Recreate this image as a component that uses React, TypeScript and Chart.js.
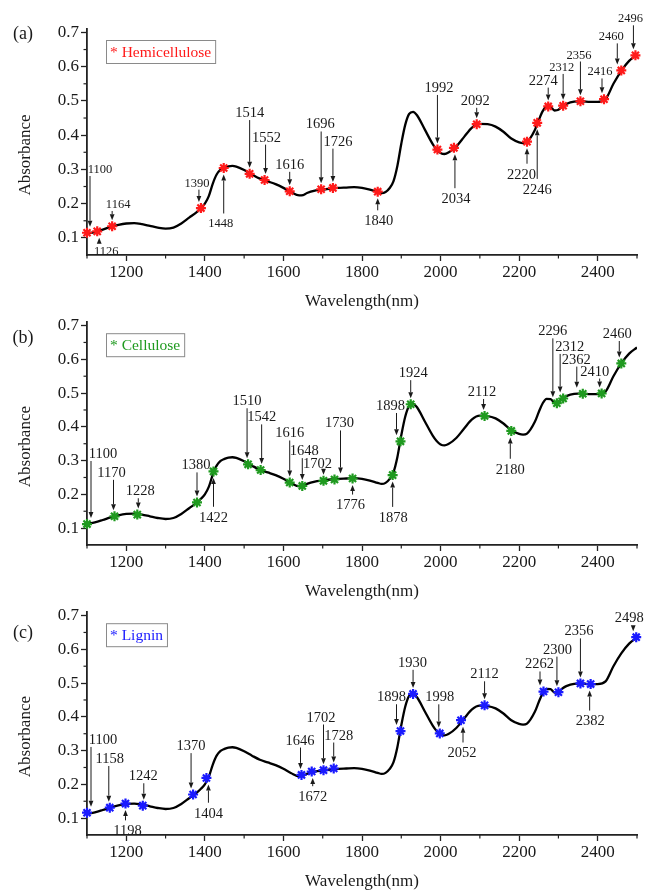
import React, { useEffect, useRef } from "react";
import { Chart, registerables } from "chart.js";
Chart.register(...registerables);

// ---------- data ----------
const SPECTRUM_WL = [
  1100, 1120, 1140, 1160, 1180, 1200, 1220, 1240, 1260, 1280, 1300, 1320, 1340, 1360, 1380, 1390,
  1400, 1410, 1420, 1430, 1440, 1450, 1460, 1470, 1480, 1500, 1520, 1540, 1560, 1580, 1600, 1620,
  1640, 1650, 1660, 1680, 1700, 1720, 1740, 1760, 1780, 1800, 1820, 1840, 1850, 1860, 1870, 1880,
  1890, 1900, 1910, 1920, 1930, 1940, 1960, 1980, 1990, 2000, 2010, 2020, 2040, 2060, 2080, 2100,
  2120, 2140, 2160, 2180, 2200, 2210, 2220, 2240, 2250, 2260, 2270, 2280, 2290, 2300, 2310, 2320,
  2340, 2360, 2380, 2400, 2420, 2440, 2460, 2480, 2500,
];
const SPECTRUM_ABS = [
  0.113, 0.117, 0.124, 0.132, 0.138, 0.142, 0.143, 0.14, 0.135, 0.13, 0.127, 0.13, 0.142, 0.159, 0.176, 0.187,
  0.2, 0.222, 0.258, 0.285, 0.299, 0.305, 0.309, 0.31, 0.308, 0.298, 0.285, 0.273, 0.265, 0.257, 0.246, 0.233,
  0.224, 0.225, 0.231, 0.238, 0.241, 0.244, 0.246, 0.247, 0.248, 0.246, 0.241, 0.234, 0.231, 0.234, 0.245, 0.265,
  0.31, 0.375, 0.43, 0.462, 0.468, 0.458, 0.416, 0.374, 0.358, 0.348, 0.345, 0.349, 0.367, 0.395, 0.422, 0.433,
  0.432, 0.425, 0.41, 0.39, 0.379, 0.377, 0.38, 0.415, 0.444, 0.47, 0.483, 0.482, 0.472, 0.474, 0.484, 0.491,
  0.498, 0.499, 0.497, 0.497, 0.505, 0.55, 0.588, 0.617, 0.635,
];

const HEMI_WL = [1100, 1126, 1164, 1390, 1448, 1514, 1552, 1616, 1696, 1726, 1840, 1992, 2034, 2092, 2220, 2246, 2274, 2312, 2356, 2416, 2460, 2496];
const HEMI_ABS = [0.115, 0.119, 0.134, 0.187, 0.304, 0.287, 0.269, 0.236, 0.242, 0.246, 0.235, 0.358, 0.363, 0.432, 0.381, 0.436, 0.484, 0.486, 0.499, 0.505, 0.589, 0.633];

const CELL_WL = [1100, 1170, 1228, 1380, 1422, 1510, 1542, 1616, 1648, 1702, 1730, 1776, 1878, 1898, 1924, 2112, 2180, 2296, 2312, 2362, 2410, 2460];
const CELL_ABS = [0.112, 0.135, 0.14, 0.176, 0.268, 0.289, 0.272, 0.235, 0.225, 0.24, 0.244, 0.247, 0.257, 0.357, 0.467, 0.432, 0.388, 0.47, 0.484, 0.498, 0.499, 0.588];

const LIG_WL = [1100, 1158, 1198, 1242, 1370, 1404, 1646, 1672, 1702, 1728, 1898, 1930, 1998, 2052, 2112, 2262, 2300, 2356, 2382, 2498];
const LIG_ABS = [0.116, 0.131, 0.143, 0.137, 0.17, 0.219, 0.228, 0.238, 0.242, 0.247, 0.358, 0.468, 0.351, 0.39, 0.434, 0.475, 0.473, 0.499, 0.497, 0.636];

const X_TICKS = [1200, 1400, 1600, 1800, 2000, 2200, 2400];
const X_MINOR = [1100, 1300, 1500, 1700, 1900, 2100, 2300, 2500];
const Y_TICKS = [0.1, 0.2, 0.3, 0.4, 0.5, 0.6, 0.7];
const Y_MINOR = [0.15, 0.25, 0.35, 0.45, 0.55, 0.65];

// ---------- label layout (px offsets from marker: labelDx, labelDy, arrowDx, fontSize) ----------
const S = 12.5;
const L = 14.5;
const HEMI_LAYOUT = [
  [13, -64, 3, S], [9, 19, 2, S], [6, -22.5, 0, S], [-4, -25.7, -2, S], [-3, 54.7, 0, S],
  [0, -61.7, 0, L], [2, -43.3, 1, L], [0, -27.4, 0, L], [-1, -65.7, 0, L], [5, -47.2, 0, L],
  [1, 28.6, 0, L], [1.5, -62.5, 0, L], [2, 50.3, 1, L], [-1.5, -24.3, 0, L], [-5.5, 32, 0, L],
  [0, 66, 0, L], [-5, -26.7, 0, L], [-1.5, -39, 0, S], [-1.5, -47, 0, S], [-4, -28, -2, S],
  [-10, -34.3, -4, S], [-5, -37.3, -2, S],
];
const CELL_LAYOUT = [
  [16, -71, 4, L], [-3, -44.4, -1, L], [3, -24.3, 1, L], [-1, -38, 0, L], [0, 45.3, 0, L],
  [-1, -64, -1, L], [1, -53.6, 1, L], [0, -50, 0, L], [2, -35.7, 0, L], [-6, -17.7, 0, L],
  [5, -57, 6, L], [-2, 26, 0, L], [0.5, 41.7, 0, L], [-10, -36.3, -4, L], [2.5, -32, 0, L],
  [-2.5, -25, -1, L], [-1, 37.8, -1, L], [-4, -72.8, -4, L], [6.5, -52.5, -3, L], [-6.5, -35.1, -6, L],
  [-7, -22.8, -2, L], [-4, -30.3, -2, L],
];
const LIG_LAYOUT = [
  [16, -73.7, 4, L], [0, -49.6, -1, L], [2, 26.7, 0, L], [0.5, -30.3, 1, L], [-2, -49.3, -2, L],
  [2, 34.7, 2, L], [-1.5, -35.3, -1, L], [1, 24.6, 1, L], [-2.5, -53.6, 0, L], [5, -33.9, 0, L],
  [-9, -34.7, -4, L], [-0.5, -32, 0, L], [0, -37, -1, L], [1, 32.2, 2, L], [0, -32, 0, L],
  [-4, -28, -3.5, L], [-1, -43.5, -1.5, L], [-1.5, -53, 0, L], [-0.5, 36.4, -1, L], [-7, -19.7, -3, L],
];

const FONT = "'Liberation Serif', 'Times New Roman', serif";
const INK = "#1a1a1a";
const AXIS = "#222";

const PANELS = [
  { tag: "(a)", name: "Hemicellulose", color: "#ff1a1a", wl: HEMI_WL, abs: HEMI_ABS, layout: HEMI_LAYOUT, top: 0, h: 310, padTop: 29, tagY: 34 },
  { tag: "(b)", name: "Cellulose", color: "#1f9a1f", wl: CELL_WL, abs: CELL_ABS, layout: CELL_LAYOUT, top: 310, h: 290, padTop: 12, tagY: 28 },
  { tag: "(c)", name: "Lignin", color: "#1a1aff", wl: LIG_WL, abs: LIG_ABS, layout: LIG_LAYOUT, top: 600, h: 290, padTop: 10, tagY: 33 },
];

function makeDecor(p: any) {
  return {
    id: "decor",
    afterDraw(chart: any) {
      const ctx = chart.ctx as CanvasRenderingContext2D;
      const xs = chart.scales.x;
      const ys = chart.scales.y;
      const a = chart.chartArea;
      ctx.save();
      // minor ticks
      ctx.strokeStyle = AXIS;
      ctx.lineWidth = 1.2;
      X_MINOR.forEach((v) => {
        const px = xs.getPixelForValue(v);
        ctx.beginPath();
        ctx.moveTo(px, a.bottom);
        ctx.lineTo(px, a.bottom + 3.5);
        ctx.stroke();
      });
      Y_MINOR.forEach((v) => {
        const py = ys.getPixelForValue(v);
        ctx.beginPath();
        ctx.moveTo(a.left, py);
        ctx.lineTo(a.left - 3.5, py);
        ctx.stroke();
      });
      // annotations
      ctx.strokeStyle = INK;
      ctx.fillStyle = INK;
      ctx.lineWidth = 1;
      p.wl.forEach((wl: number, i: number) => {
        const [ldx, dy, adx, size] = p.layout[i];
        const mx = xs.getPixelForValue(wl);
        const my = ys.getPixelForValue(p.abs[i]);
        const lx = mx + ldx;
        const ly = my + dy;
        ctx.font = `${size}px ${FONT}`;
        ctx.textAlign = "center";
        ctx.textBaseline = "alphabetic";
        ctx.fillText(String(wl), lx, ly + size * 0.34);
        const half = size * 0.34;
        const ax = mx + adx;
        let start: number, tip: number;
        if (dy < 0) {
          start = ly + half + 3;
          tip = my - 6;
        } else {
          start = ly - half - 5;
          tip = my + 6.5;
        }
        const dir = Math.sign(tip - start) || 1;
        const headLen = 6;
        const headW = 2.4;
        const base = tip - dir * headLen;
        if (Math.abs(tip - start) > headLen) {
          ctx.beginPath();
          ctx.moveTo(ax, start);
          ctx.lineTo(ax, base);
          ctx.stroke();
        }
        ctx.beginPath();
        ctx.moveTo(ax, tip);
        ctx.lineTo(ax - headW, base);
        ctx.lineTo(ax + headW, base);
        ctx.closePath();
        ctx.fill();
      });
      // legend box
      ctx.font = `15.5px ${FONT}`;
      const label = "* " + p.name;
      const tw = ctx.measureText(label).width;
      const bx = a.left + 19;
      const by = a.top + 11;
      const bw = tw + 8;
      const bh = 23;
      ctx.fillStyle = "#fff";
      ctx.fillRect(bx, by, bw, bh);
      ctx.strokeStyle = "#8a8a8a";
      ctx.lineWidth = 1;
      ctx.strokeRect(bx + 0.5, by + 0.5, bw, bh);
      ctx.fillStyle = p.color;
      ctx.textAlign = "left";
      ctx.textBaseline = "middle";
      ctx.fillText(label, bx + 4, by + bh / 2 + 1);
      // y title
      ctx.save();
      ctx.translate(26, (a.top + a.bottom) / 2 + 13);
      ctx.rotate(-Math.PI / 2);
      ctx.font = `17px ${FONT}`;
      ctx.fillStyle = INK;
      ctx.textAlign = "center";
      ctx.textBaseline = "middle";
      ctx.fillText("Absorbance", 0, 0);
      ctx.restore();
      // panel tag
      ctx.font = `18px ${FONT}`;
      ctx.fillStyle = INK;
      ctx.textAlign = "center";
      ctx.textBaseline = "middle";
      ctx.fillText(p.tag, 23, p.tagY);
      ctx.restore();
    },
  };
}

function Panel({ p }: { p: any }) {
  const ref = useRef<HTMLCanvasElement>(null);
  useEffect(() => {
    const canvas = ref.current;
    if (!canvas) return;
    const spectrum = SPECTRUM_WL.map((x, i) => ({ x, y: SPECTRUM_ABS[i] }));
    const marks = p.wl.map((x: number, i: number) => ({ x, y: p.abs[i] }));
    const chart = new Chart(canvas, {
      type: "line",
      data: {
        datasets: [
          {
            data: marks,
            showLine: false,
            pointStyle: "star",
            pointRadius: 5,
            pointBorderWidth: 2.2,
            borderColor: p.color,
            backgroundColor: p.color,
            clip: false,
          } as any,
          {
            data: spectrum,
            borderColor: "#000",
            borderWidth: 2.3,
            pointRadius: 0,
            cubicInterpolationMode: "monotone",
            fill: false,
          } as any,
        ],
      },
      options: {
        animation: false,
        responsive: false,
        maintainAspectRatio: false,
        events: [],
        layout: { padding: { left: 0, right: 8, top: p.padTop, bottom: 0 } },
        plugins: { legend: { display: false }, tooltip: { enabled: false } },
        scales: {
          x: {
            type: "linear",
            min: 1100,
            max: 2500,
            afterBuildTicks: (s: any) => {
              s.ticks = X_TICKS.map((v) => ({ value: v }));
            },
            afterFit: (s: any) => {
              s.height = 55;
            },
            grid: { display: true, drawOnChartArea: false, drawTicks: true, tickLength: 6, tickColor: AXIS, tickWidth: 1.3 },
            border: { display: true, color: AXIS, width: 1.8 },
            ticks: {
              font: { family: FONT, size: 17 },
              color: INK,
              padding: 1,
              maxRotation: 0,
              autoSkip: false,
              callback: (v: any) => String(v),
            },
            title: { display: true, text: "Wavelength(nm)", font: { family: FONT, size: 17, lineHeight: 1 }, color: INK, padding: 0 },
          },
          y: {
            type: "linear",
            min: 0.05,
            max: 0.71,
            afterBuildTicks: (s: any) => {
              s.ticks = Y_TICKS.map((v) => ({ value: v }));
            },
            afterFit: (s: any) => {
              s.width = 87;
            },
            grid: { display: true, drawOnChartArea: false, drawTicks: true, tickLength: 6, tickColor: AXIS, tickWidth: 1.3 },
            border: { display: true, color: AXIS, width: 1.8 },
            ticks: {
              font: { family: FONT, size: 17 },
              color: INK,
              padding: 2,
              autoSkip: false,
              callback: (v: any) => Number(v).toFixed(1),
            },
            title: { display: false },
          },
        },
      } as any,
      plugins: [makeDecor(p)],
    });
    return () => chart.destroy();
  }, [p]);
  return (
    <canvas
      ref={ref}
      width={645}
      height={p.h}
      style={{ position: "absolute", left: 0, top: p.top, width: 645, height: p.h, display: "block" }}
    />
  );
}

export default function App() {
  return (
    <div style={{ position: "fixed", left: 0, top: 0, width: 645, height: 890, overflow: "hidden", background: "#fff" }}>
      {PANELS.map((p) => (
        <Panel key={p.tag} p={p} />
      ))}
    </div>
  );
}
